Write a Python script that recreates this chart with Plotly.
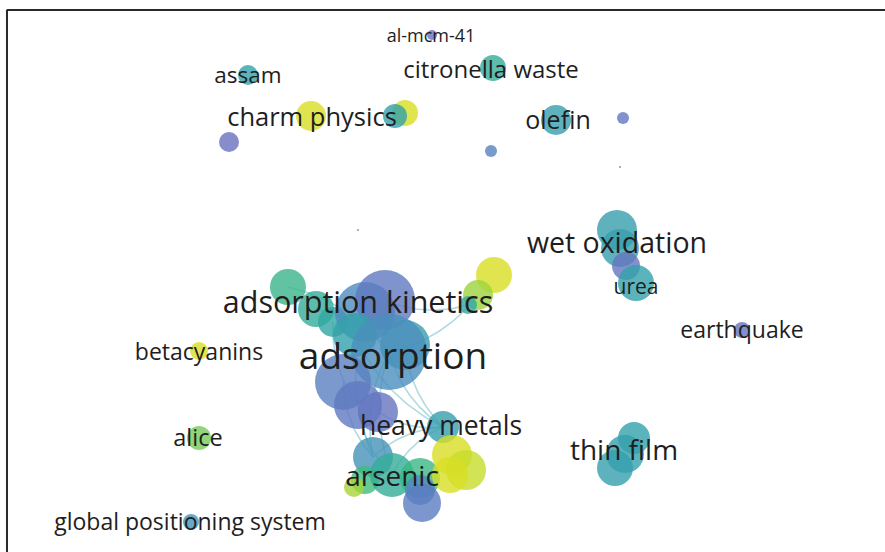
import numpy as np
import plotly.graph_objects as go

# ---- keyword map: node coordinates (map units), weights and average publication year ----
node_x = [
    # central cluster
    288, 316, 333, 365, 385, 355, 405, 389, 343, 358, 378,
    494, 478, 468,
    443, 373, 365, 354, 392, 420, 452, 466, 450, 420, 422,
    # top
    432, 493, 248, 311, 405, 395, 556, 623, 491, 229,
    # right
    617, 620, 626, 636, 742, 634, 625, 615,
    # left
    199, 199, 191,
    # stray points
    358, 620,
]
node_y = [
    287, 309, 322, 312, 300, 335, 345, 352, 382, 405, 412,
    275, 295, 305,
    427, 457, 480, 487, 475, 478, 455, 470, 475, 490, 503,
    35, 68, 75, 116, 113, 116, 120, 118, 151, 142,
    230, 248, 266, 283, 330, 438, 454, 468,
    351, 438, 522,
    230, 167,
]
node_weight = [
    18, 18, 15, 30, 30, 22, 25, 38, 28, 24, 20,
    18, 15, 9,
    16, 20, 14, 10, 22, 20, 20, 20, 18, 15, 19,
    5, 13, 10, 15, 13, 12, 15, 6, 6, 10,
    20, 19, 14, 18, 8, 16, 19, 18,
    9, 12, 8,
    1, 1,
]
node_year = [
    2017.6, 2017.0, 2016.4, 2014.0, 2012.6, 2016.0, 2015.6, 2014.2, 2013.0, 2012.6, 2012.2,
    2021.0, 2019.6, 2016.5,
    2015.6, 2014.6, 2018.2, 2019.8, 2017.0, 2017.8, 2021.0, 2020.6, 2021.0, 2013.6, 2012.8,
    2012.0, 2017.0, 2016.0, 2021.0, 2021.0, 2016.0, 2015.6, 2012.4, 2013.2, 2011.8,
    2015.6, 2015.6, 2012.2, 2016.0, 2012.0, 2016.0, 2015.8, 2015.8,
    2021.0, 2019.0, 2014.8,
    2014.0, 2014.0,
]

# co-occurrence links (node index pairs)
links = [
    (7, 14), (7, 15), (7, 18), (7, 12), (7, 1), (7, 0), (2, 9), (3, 15),
    (5, 14), (8, 15), (14, 15), (14, 18), (6, 14), (4, 13), (9, 18), (10, 14),
]

# ---- labels ----
label_text = [
    "al-mcm-41", "citronella waste", "assam", "charm physics", "olefin",
    "wet oxidation", "urea", "earthquake", "adsorption kinetics", "adsorption",
    "betacyanins", "alice", "heavy metals", "arsenic", "thin film",
    "global positioning system",
]
label_x = [431, 491, 248, 312, 558, 617, 636, 742, 358, 393, 199, 198, 441, 392, 624, 190]
label_y = [37, 72, 77, 120, 123, 246, 289, 332, 305, 360, 354, 440, 428, 479, 453, 524]
label_size = [18, 24, 22.5, 25.5, 25, 28.5, 21, 23, 30.5, 37, 23, 23.5, 26.5, 28, 28, 23]

year_min, year_max = 2011.5, 2021.0
colorscale = [
    [0.00, "#6d6bbf"],
    [0.25, "#4f8ac0"],
    [0.50, "#2fa4a7"],
    [0.70, "#3dba7e"],
    [0.85, "#9dd33c"],
    [1.00, "#d8df23"],
]

fig = go.Figure()

# curved links drawn as quadratic Bezier paths
t = np.linspace(0, 1, 30)
for a, b in links:
    x0, y0, x1, y1 = node_x[a], node_y[a], node_x[b], node_y[b]
    mx, my = (x0 + x1) / 2, (y0 + y1) / 2
    dx, dy = x1 - x0, y1 - y0
    cx, cy = mx - 0.18 * dy, my + 0.18 * dx
    bx = (1 - t) ** 2 * x0 + 2 * (1 - t) * t * cx + t ** 2 * x1
    by = (1 - t) ** 2 * y0 + 2 * (1 - t) * t * cy + t ** 2 * y1
    fig.add_trace(go.Scatter(
        x=bx, y=by, mode="lines",
        line=dict(color="rgba(110,190,200,0.55)", width=1.6),
        hoverinfo="skip", showlegend=False,
    ))

fig.add_trace(go.Scatter(
    x=node_x, y=node_y, mode="markers",
    marker=dict(
        size=[2 * w for w in node_weight],
        color=node_year, colorscale=colorscale,
        cmin=year_min, cmax=year_max,
        opacity=0.8, line=dict(width=0),
    ),
    hoverinfo="skip", showlegend=False,
))

fig.add_trace(go.Scatter(
    x=label_x, y=label_y, mode="text", text=label_text,
    textposition="middle center",
    textfont=dict(family="Open Sans", size=label_size, color="#1e1e1e"),
    hoverinfo="skip", showlegend=False,
))

# frame: top and left border lines
fig.add_shape(type="line", xref="paper", yref="paper", x0=0.0075, x1=1, y0=0.982, y1=0.982,
              line=dict(color="#2a2a2a", width=2))
fig.add_shape(type="line", xref="paper", yref="paper", x0=0.0079, x1=0.0079, y0=0, y1=0.982,
              line=dict(color="#2a2a2a", width=2))

fig.update_layout(
    width=885, height=552,
    margin=dict(l=0, r=0, t=0, b=0),
    paper_bgcolor="white", plot_bgcolor="white",
    xaxis=dict(range=[0, 885], visible=False, fixedrange=True),
    yaxis=dict(range=[552, 0], visible=False, fixedrange=True),
)

fig.write_html("out.html")
